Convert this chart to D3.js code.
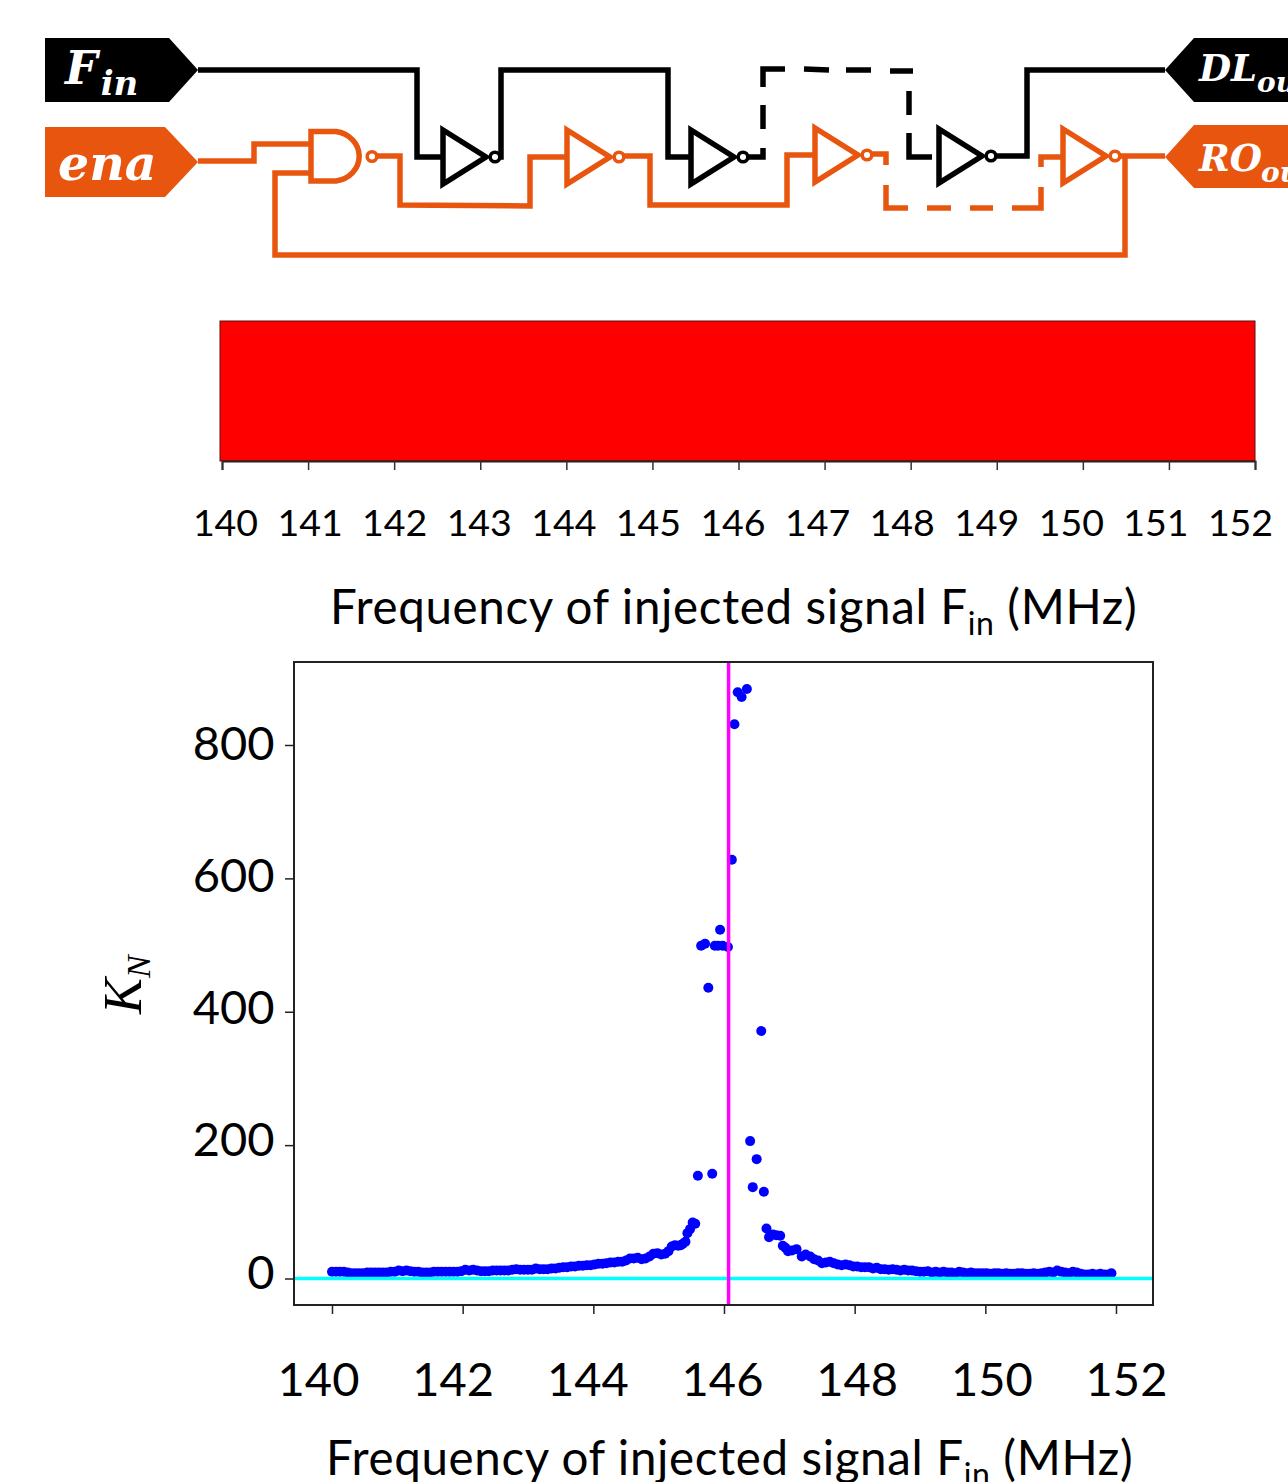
<!DOCTYPE html>
<html>
<head>
<meta charset="utf-8">
<script src="https://cdn.jsdelivr.net/npm/d3@7"></script>
<style>
html,body{margin:0;padding:0;background:#fff;overflow:hidden;}
svg{display:block;}
</style>
</head>
<body>
<div id="chart"></div>
<script>
"use strict";

// ---- values ----
var stripTicks=[140,141,142,143,144,145,146,147,148,149,150,151,152];
var plotXTicks=[140,142,144,146,148,150,152];
var plotYTicks=[0,200,400,600,800];
var injectedFreq=146.07;

var tailLeftFreq=[
140.00,140.06,140.12,140.18,140.24,140.30,140.36,140.42,140.48,140.54,140.60,140.66,140.72,140.78,140.84,140.90,140.96,
141.02,141.08,141.14,141.20,141.26,141.32,141.38,141.44,141.50,141.56,141.62,141.68,141.74,141.80,141.86,141.92,141.98,
142.04,142.10,142.16,142.22,142.28,142.34,142.40,142.46,142.52,142.58,142.64,142.70,142.76,142.82,142.88,142.94,
143.00,143.06,143.12,143.18,143.24,143.30,143.36,143.42,143.48,143.54,143.60,143.66,143.72,143.78,143.84,143.90,143.96,
144.02,144.08,144.14,144.20,144.26,144.32,144.38,144.44,144.50,144.56,144.62,144.68,144.74,144.80,144.86,144.92,144.98,
145.04,145.10,145.15,145.20,145.25,145.30,145.34,145.37,145.41,145.44,145.48,145.52,145.56];
var tailLeftK=[
10,10,10,10,9,8,8,8,8,9,9,9,9,9,9,10,10,
12,11,12,11,10,10,9,9,9,10,10,10,10,10,10,10,11,
13,12,13,12,11,11,11,12,12,12,12,12,13,14,13,13,
13,13,15,14,14,14,15,15,16,17,17,18,18,19,19,20,20,
21,22,22,23,24,24,25,25,27,30,30,31,29,30,33,37,38,
36,37,41,48,50,49,50,52,55,68,74,84,82,73,76,80,80];

var tailRightFreq=[
146.65,146.69,146.75,146.80,146.86,146.90,146.94,146.98,147.04,147.11,147.19,147.25,147.32,147.38,147.44,147.50,147.56,147.62,147.68,147.74,147.80,147.86,147.92,147.98,
148.04,148.10,148.16,148.22,148.28,148.34,148.40,148.46,148.52,148.58,148.64,148.70,148.76,148.82,148.88,148.94,
149.00,149.06,149.12,149.18,149.24,149.30,149.36,149.42,149.48,149.54,149.60,149.66,149.72,149.78,149.84,149.90,149.96,
150.02,150.08,150.14,150.20,150.26,150.32,150.38,150.44,150.50,150.56,150.62,150.68,150.74,150.80,150.86,150.92,150.98,
151.04,151.10,151.16,151.22,151.28,151.34,151.40,151.46,151.52,151.58,151.64,151.70,151.76,151.82,151.88,151.93];
var tailRightK=[
75,62,66,65,64,49,46,41,42,44,33,36,33,29,27,23,24,25,23,21,20,21,20,18,
18,17,17,17,15,16,14,14,13,14,13,12,13,12,12,11,
10,10,11,9,10,9,10,9,9,8,10,9,8,9,8,8,8,
8,7,8,8,7,8,7,7,8,8,7,7,8,7,8,9,10,
9,12,10,9,8,10,9,7,6,6,7,6,7,6,6,8];

var peakFreq=[145.60,145.65,145.71,145.76,145.82,145.86,145.91,145.94,145.98,146.06,146.12,146.16,146.21,146.27,146.35,146.40,146.44,146.50,146.57,146.61];
var peakK=[154,499,502,436,157,499,499,523,499,497,628,831,879,872,884,206,137,179,371,130];

var black="#000000", orange="#e8550f";
var svg=d3.select("#chart").append("svg").attr("width",1288).attr("height",1482);

// ---- circuit on top ----
var circuit=svg.append("g").attr("fill","none").attr("stroke-width",5.5);

var wires=[
    {c:black,p:[[198,70],[417,70],[417,157],[443,157]]},
    {c:black,p:[[495,157],[501,157],[501,70],[668,70],[668,157],[690,157]]},
    {c:black,p:[[743,157],[763,157],[763,148]]},
    {c:black,p:[[763,129],[763,105]]},
    {c:black,p:[[763,87],[763,69],[785,69]]},
    {c:black,p:[[804,69],[829,70]]},
    {c:black,p:[[846,70],[871,70]]},
    {c:black,p:[[890,71],[913,71]]},
    {c:black,p:[[909,91],[909,115]]},
    {c:black,p:[[909,133],[909,157],[932,157]]},
    {c:black,p:[[991,156],[1027,156],[1027,70],[1165,70]]},
    {c:orange,p:[[198,161],[254,161],[254,144],[311,144]]},
    {c:orange,p:[[311,173],[275,173],[275,255],[1125,255],[1125,157]]},
    {c:orange,p:[[372,156],[400,156],[400,205],[530,206],[530,157],[565,157]]},
    {c:orange,p:[[619,156],[650,156],[650,205],[787,205],[787,155],[813,155]]},
    {c:orange,p:[[867,154],[886,154],[886,165]]},
    {c:orange,p:[[886,185],[886,208],[908,208]]},
    {c:orange,p:[[927,208],[951,208]]},
    {c:orange,p:[[970,208],[993,208]]},
    {c:orange,p:[[1012,208],[1041,208],[1041,187]]},
    {c:orange,p:[[1041,167],[1041,157],[1062,157]]},
    {c:orange,p:[[1115,156],[1165,156]]}
];
var line=d3.line();
wires.forEach(function(w){
    circuit.append("path").attr("d",line(w.p)).attr("stroke",w.c);
});

function inverter(x,y,c){
    circuit.append("path")
        .attr("d","M"+x+","+(y-27)+"L"+(x+43)+","+y+"L"+x+","+(y+27)+"Z")
        .attr("stroke",c).attr("fill","#fff");
    circuit.append("circle").attr("cx",x+52).attr("cy",y).attr("r",4.8)
        .attr("stroke",c).attr("stroke-width",3.5).attr("fill","#fff");
}
inverter(443,157,black);
inverter(567,157,orange);
inverter(691,157,black);
inverter(815,155,orange);
inverter(939,156,black);
inverter(1063,156,orange);

// nand gate
circuit.append("path")
    .attr("d","M311,131.5L336,131.5A27,25 0 0 1 336,181L311,181Z")
    .attr("stroke",orange).attr("fill","#fff");
circuit.append("circle").attr("cx",372).attr("cy",156.5).attr("r",4.8)
    .attr("stroke",orange).attr("stroke-width",3.5).attr("fill","#fff");

// tags at both ends
var tags=[
    {c:black,p:[[45,38],[169,38],[198,70],[169,102],[45,102]]},
    {c:orange,p:[[45,127],[165,127],[198,162],[165,197],[45,197]]},
    {c:black,p:[[1165,70],[1194,38],[1290,38],[1290,102],[1194,102]]},
    {c:orange,p:[[1165,157],[1194,125],[1290,125],[1290,188],[1194,188]]}
];
tags.forEach(function(t){
    svg.append("polygon").attr("points",t.p.join(" ")).attr("fill",t.c);
});

function tagLabel(x,y,main,sub,size,subSize,subGap){
    var t=svg.append("text").attr("x",x).attr("y",y)
        .attr("font-family","'DejaVu Serif'").attr("font-style","italic").attr("font-weight","bold")
        .attr("fill","#fff").attr("font-size",size);
    t.append("tspan").text(main);
    if(sub){
        t.append("tspan").attr("dx",subGap).attr("dy",11).attr("font-size",subSize).text(sub);
    }
}
tagLabel(65,84,"F","in",46,34,3);
tagLabel(58,180,"ena",null,49);
tagLabel(1199,81,"DL","out",37,28,0);
tagLabel(1199,171,"RO","out",37,28,-1);

// ---- red strip ----
var stripX=d3.scaleLinear().domain([140,152]).range([222,1255]);
var stripLabelX=d3.scaleLinear().domain([140,152]).range([225,1240]);

svg.append("rect")
    .attr("x",220).attr("y",321)
    .attr("width",1035).attr("height",140)
    .attr("fill","#ff0000").attr("stroke","#5a1010").attr("stroke-width",1);

svg.append("g").attr("transform","translate(0,461)")
    .call(d3.axisBottom(stripX).tickValues(stripTicks).tickSize(9).tickFormat(""))
    .call(function(g){g.select(".domain").attr("stroke","#222").attr("stroke-width",2);})
    .call(function(g){g.selectAll(".tick line").attr("stroke","#333").attr("stroke-width",1.5);});

function labelAxis(scale,ticks,y,size){
    svg.append("g").attr("transform","translate(0,"+y+")")
        .call(d3.axisBottom(scale).tickValues(ticks).tickSize(0).tickPadding(0).tickFormat(d3.format("d")))
        .call(function(g){
            g.select(".domain").remove();
            g.selectAll("text").attr("font-family","Lato").attr("font-size",size).attr("fill","#000");
        });
}
labelAxis(stripLabelX,stripTicks,509,37.5);

function freqTitle(x,y){
    var t=svg.append("text").attr("x",x).attr("y",y)
        .attr("font-family","Lato").attr("font-size",47.5).attr("letter-spacing",0.65).attr("fill","#000");
    t.append("tspan").text("Frequency of injected signal F");
    t.append("tspan").attr("dy",11).attr("font-size",32).text("in");
    t.append("tspan").attr("dy",-11).text(" (MHz)");
}
freqTitle(330,624);

// ---- scatter ----
var frame={l:294,r:1153,t:662,b:1305};
var x=d3.scaleLinear().domain([140,152]).range([332,1116]);
var y=d3.scaleLinear().domain([0,800]).range([1278.5,745]);
var xLabel=d3.scaleLinear().domain([140,152]).range([318,1126]);
var yLabel=d3.scaleLinear().domain([0,800]).range([1273,744]);

function dots(fs,ks){
    svg.append("g").selectAll("circle").data(fs).enter().append("circle")
        .attr("cx",function(d){return x(d);})
        .attr("cy",function(d,i){return y(ks[i]);})
        .attr("r",5)
        .attr("fill","#0000ff");
}
dots(tailLeftFreq,tailLeftK);
dots(tailRightFreq,tailRightK);
dots(peakFreq,peakK);

svg.append("line")
    .attr("x1",frame.l).attr("x2",frame.r)
    .attr("y1",y(0)).attr("y2",y(0))
    .attr("stroke","#00ffff").attr("stroke-width",3.5);
svg.append("line")
    .attr("x1",x(injectedFreq)).attr("x2",x(injectedFreq))
    .attr("y1",frame.t).attr("y2",frame.b)
    .attr("stroke","#ff00ff").attr("stroke-width",3.5);

svg.append("rect")
    .attr("x",frame.l).attr("y",frame.t)
    .attr("width",frame.r-frame.l).attr("height",frame.b-frame.t)
    .attr("fill","none").attr("stroke","#222").attr("stroke-width",2);

svg.append("g").attr("transform","translate(0,"+frame.b+")")
    .call(d3.axisBottom(x).tickValues(plotXTicks).tickSize(9).tickFormat(""))
    .call(function(g){g.select(".domain").remove();g.selectAll(".tick line").attr("stroke","#222").attr("stroke-width",1.5);});

svg.append("g").attr("transform","translate("+frame.l+",0)")
    .call(d3.axisLeft(y).tickValues(plotYTicks).tickSize(9).tickFormat(""))
    .call(function(g){g.select(".domain").remove();g.selectAll(".tick line").attr("stroke","#222").attr("stroke-width",1.5);});

svg.append("g").attr("transform","translate(274.5,0)")
    .call(d3.axisLeft(yLabel).tickValues(plotYTicks).tickSize(0).tickPadding(0).tickFormat(d3.format("d")))
    .call(function(g){
        g.select(".domain").remove();
        g.selectAll("text").attr("font-family","Lato").attr("font-size",47).attr("fill","#000");
    });

labelAxis(xLabel,plotXTicks,1363,47);
freqTitle(326,1475);

var kLabel=svg.append("text")
    .attr("transform","translate(141,1014) rotate(-90)")
    .attr("font-family","'Liberation Serif'").attr("font-style","italic")
    .attr("font-size",54).attr("fill","#000");
kLabel.append("tspan").text("K");
kLabel.append("tspan").attr("dy",9).attr("font-size",34).text("N");
</script>
</body>
</html>
